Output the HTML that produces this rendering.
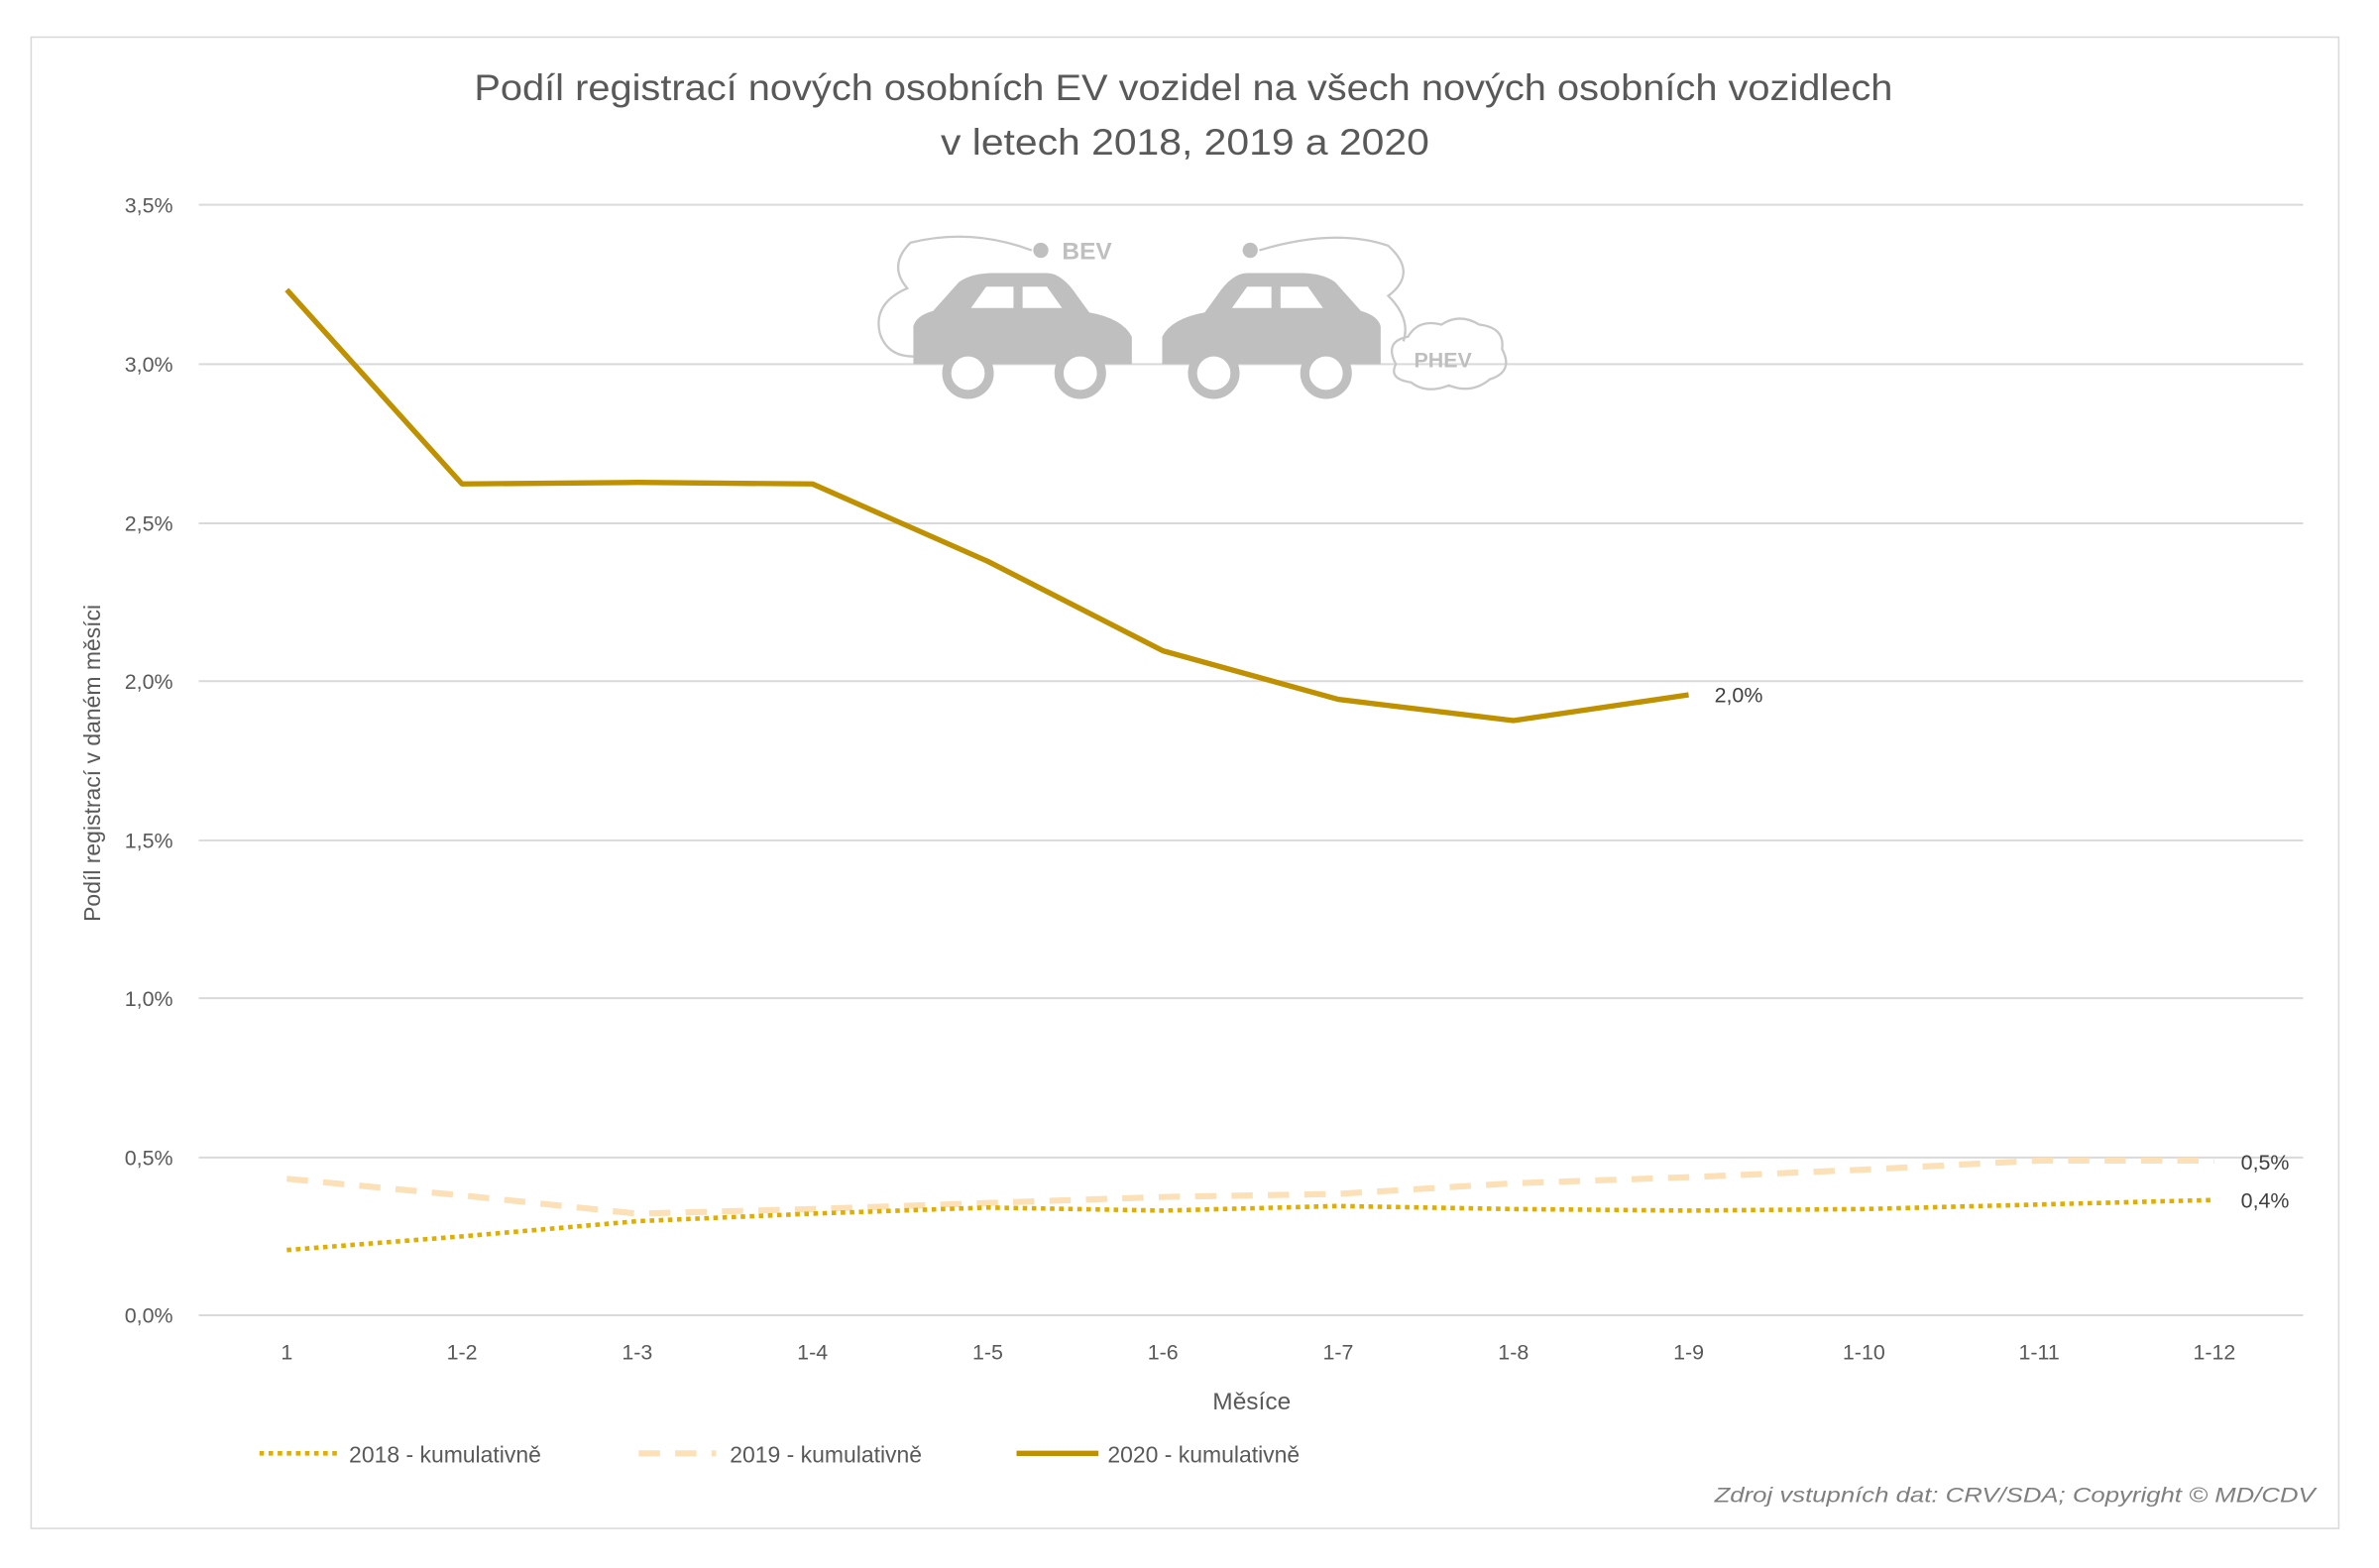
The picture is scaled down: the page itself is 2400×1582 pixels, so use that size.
<!DOCTYPE html>
<html><head><meta charset="utf-8"><style>
html,body{margin:0;padding:0;background:#fff;}
svg{display:block;}
text{font-family:"Liberation Sans",sans-serif;}
</style></head><body>
<svg width="2400" height="1582" viewBox="0 0 1568 1033.6" xmlns="http://www.w3.org/2000/svg">
<rect x="0" y="0" width="1568" height="1034" fill="#fff"/>
<rect x="20.5" y="24.5" width="1521" height="983" fill="#fff" stroke="#d9d9d9" stroke-width="1"/>
<text x="780" y="66" font-size="24" fill="#595959" text-anchor="middle" textLength="935" lengthAdjust="spacingAndGlyphs">Podíl registrací nových osobních EV vozidel na všech nových osobních vozidlech</text>
<text x="781" y="102" font-size="24" fill="#595959" text-anchor="middle" textLength="322" lengthAdjust="spacingAndGlyphs">v letech 2018, 2019 a 2020</text>
<g stroke="#d9d9d9" stroke-width="1.3">
<line x1="131" x2="1518" y1="135" y2="135"/><line x1="131" x2="1518" y1="240" y2="240"/>
<line x1="131" x2="1518" y1="345" y2="345"/><line x1="131" x2="1518" y1="449" y2="449"/>
<line x1="131" x2="1518" y1="554" y2="554"/><line x1="131" x2="1518" y1="658" y2="658"/>
<line x1="131" x2="1518" y1="763" y2="763"/><line x1="131" x2="1518" y1="867" y2="867"/>
</g>
<g font-size="14" fill="#595959" text-anchor="end">
<text x="114" y="140">3,5%</text><text x="114" y="245">3,0%</text><text x="114" y="350">2,5%</text>
<text x="114" y="454">2,0%</text><text x="114" y="559">1,5%</text><text x="114" y="663">1,0%</text>
<text x="114" y="768">0,5%</text><text x="114" y="872">0,0%</text>
</g>
<g font-size="14" fill="#595959" text-anchor="middle">
<text x="189" y="896">1</text><text x="304.5" y="896">1-2</text><text x="420" y="896">1-3</text>
<text x="535.5" y="896">1-4</text><text x="651" y="896">1-5</text><text x="766.5" y="896">1-6</text>
<text x="882" y="896">1-7</text><text x="997.5" y="896">1-8</text><text x="1113" y="896">1-9</text>
<text x="1228.5" y="896">1-10</text><text x="1344" y="896">1-11</text><text x="1459.5" y="896">1-12</text>
<text x="825" y="929" font-size="16">Měsíce</text>
</g>
<text transform="translate(66,503) rotate(-90)" font-size="15" fill="#595959" text-anchor="middle">Podíl registrací v daném měsíci</text>
<g fill="#bfbfbf">
<path d="M602,240 L602,215 Q604,208 615,205 L632,186 Q640,180 655,180 L690,180 Q700,180 710,195 L718,206 Q740,210 746,222 L746,240 Z"/>
<path d="M766,240 L766,222 Q772,210 794,206 L802,195 Q812,180 822,180 L857,180 Q872,180 880,186 L897,205 Q908,208 910,215 L910,240 Z"/>
</g>
<g fill="#fff"><path d="M640,203 L650,189 L668,189 L668,203 Z"/><path d="M674,189 L690,189 L700,203 L674,203 Z"/>
<path d="M812,203 L822,189 L838,189 L838,203 Z"/><path d="M844,189 L862,189 L872,203 L844,203 Z"/></g>
<g fill="#fff" stroke="#bfbfbf" stroke-width="6">
<circle cx="638" cy="246" r="14"/><circle cx="712" cy="246" r="14"/>
<circle cx="800" cy="246" r="14"/><circle cx="874" cy="246" r="14"/>
</g>
<g fill="none" stroke="#c8c8c8" stroke-width="1.5">
<path d="M680,165 Q640,150 600,160 Q585,175 598,190 Q575,200 580,220 Q585,235 602,235"/>
<path d="M830,165 Q880,150 915,162 Q935,180 915,195 Q930,210 925,225"/>
<path d="M920,240 Q912,225 928,222 Q935,210 950,214 Q962,206 975,214 Q992,216 990,230 Q998,245 982,250 Q970,260 955,254 Q940,260 930,252 Q915,250 920,240 Z"/>
</g>
<text x="700" y="171" font-size="16" fill="#bfbfbf" font-weight="bold">BEV</text>
<text x="932" y="242" font-size="14" fill="#bfbfbf" font-weight="bold">PHEV</text>
<circle cx="686" cy="165" r="5" fill="#bfbfbf"/><circle cx="824" cy="165" r="5" fill="#bfbfbf"/>
<polyline fill="none" stroke="#FBE0B8" stroke-width="4" stroke-dasharray="14,10" points="189,777 304.5,788 420,800 535.5,797 651,793 766.5,789 882,787 997.5,780 1113,776 1228.5,771 1344,765 1459.5,765"/>
<polyline fill="none" stroke="#E0AE00" stroke-width="3" stroke-dasharray="3,3" points="189,824 304.5,815 420,805 535.5,800 651,796 766.5,798 882,795 997.5,797 1113,798 1228.5,797 1344,794 1459.5,791"/>
<polyline fill="none" stroke="#BF9000" stroke-width="3.5" stroke-linejoin="round" points="189,191 304.5,319 420,318 535.5,319 651,370 766.5,429 882,461 997.5,475 1113,458"/>
<g font-size="14" fill="#404040">
<text x="1130" y="463">2,0%</text><text x="1477" y="771">0,5%</text><text x="1477" y="796">0,4%</text>
</g>
<line x1="171" x2="222" y1="958" y2="958" stroke="#E0AE00" stroke-width="3" stroke-dasharray="3,3"/>
<text x="230" y="964" font-size="15" fill="#595959">2018 - kumulativně</text>
<line x1="421" x2="472" y1="958" y2="958" stroke="#FBE0B8" stroke-width="4" stroke-dasharray="14,10"/>
<text x="481" y="964" font-size="15" fill="#595959">2019 - kumulativně</text>
<line x1="670" x2="724" y1="958" y2="958" stroke="#BF9000" stroke-width="3.5"/>
<text x="730" y="964" font-size="15" fill="#595959">2020 - kumulativně</text>
<text x="1526" y="990" font-size="14" fill="#7f7f7f" font-style="italic" text-anchor="end" textLength="396" lengthAdjust="spacingAndGlyphs">Zdroj vstupních dat: CRV/SDA; Copyright © MD/CDV</text>
</svg>
</body></html>
